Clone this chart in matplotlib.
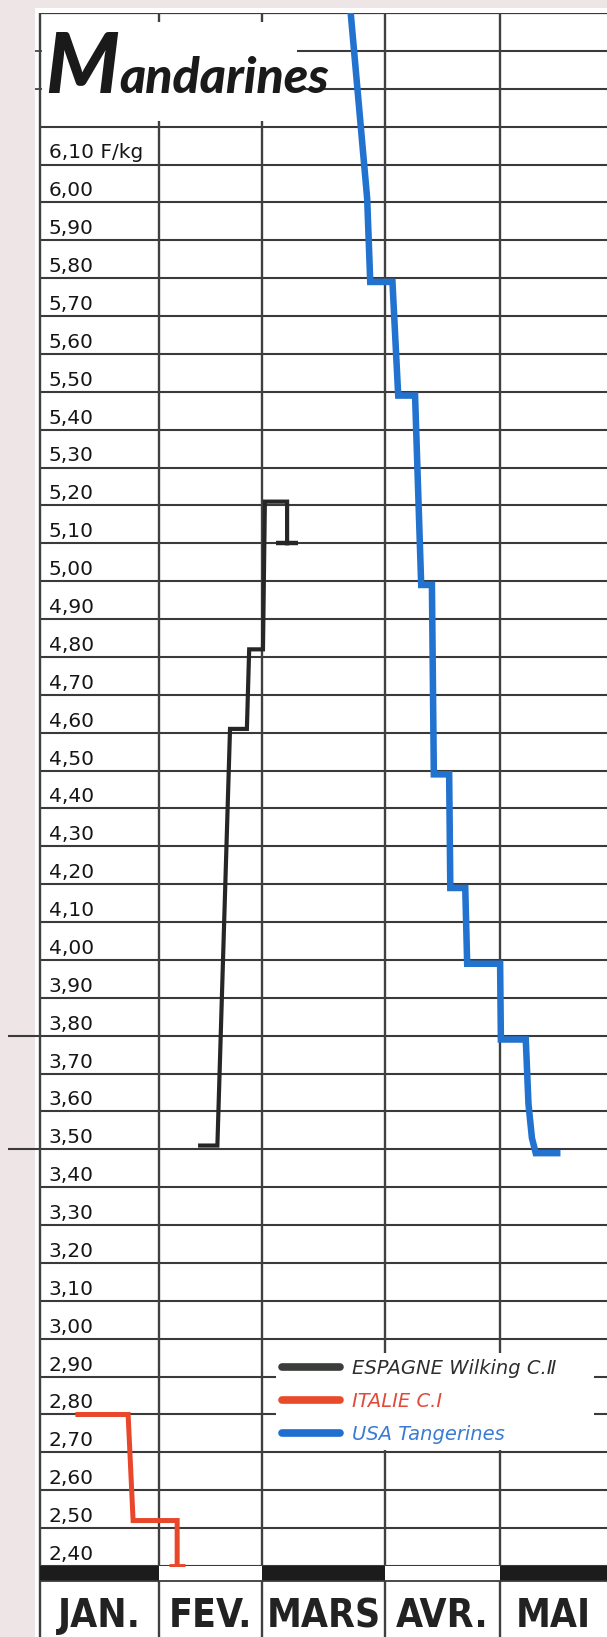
import matplotlib
matplotlib.use("Agg")
import matplotlib.pyplot as plt
from matplotlib.lines import Line2D
from matplotlib.patches import Rectangle
from matplotlib.font_manager import FontProperties, fontManager
import numpy as np

# ---------------- data ----------------
month_names = ["JAN.", "FEV.", "MARS", "AVR.", "MAI"]
month_starts = [0, 31, 58, 90, 120]      # day index where each month column begins
x_last = 148                              # visible part of May

price_levels = [2.40, 2.50, 2.60, 2.70, 2.80, 2.90, 3.00, 3.10, 3.20, 3.30,
                3.40, 3.50, 3.60, 3.70, 3.80, 3.90, 4.00, 4.10, 4.20, 4.30,
                4.40, 4.50, 4.60, 4.70, 4.80, 4.90, 5.00, 5.10, 5.20, 5.30,
                5.40, 5.50, 5.60, 5.70, 5.80, 5.90, 6.00, 6.10, 6.20]
price_labels = ["2,40", "2,50", "2,60", "2,70", "2,80", "2,90", "3,00", "3,10",
                "3,20", "3,30", "3,40", "3,50", "3,60", "3,70", "3,80", "3,90",
                "4,00", "4,10", "4,20", "4,30", "4,40", "4,50", "4,60", "4,70",
                "4,80", "4,90", "5,00", "5,10", "5,20", "5,30", "5,40", "5,50",
                "5,60", "5,70", "5,80", "5,90", "6,00", "6,10 F/kg"]

espagne_x = [41.8, 46.3, 49.6, 54.0, 54.6, 58.2, 58.7, 64.5, 64.5]
espagne_y = [3.51, 3.51, 4.61, 4.61, 4.82, 4.82, 5.21, 5.21, 5.10]

italie_x = [9.9, 23.0, 24.3, 35.8, 35.8]
italie_y = [2.80, 2.80, 2.52, 2.52, 2.40]

usa_x = [81.1, 85.4, 86.2, 92.0, 93.5, 97.9, 99.5, 102.3, 102.8, 106.8,
         107.1, 111.0, 111.5, 120.1, 120.3, 126.8, 127.5, 128.4, 129.4, 135.0]
usa_y = [6.50, 6.01, 5.79, 5.79, 5.49, 5.49, 4.99, 4.99, 4.49, 4.49,
         4.19, 4.19, 3.99, 3.99, 3.79, 3.79, 3.62, 3.53, 3.49, 3.49]

series_labels = ["ESPAGNE Wilking C.\u2161", "ITALIE C.\u2160", "USA Tangerines"]

# ---------------- layout (pixels) ----------------
W, H = 607, 1637
AX_L, AX_R, AX_T, AX_B = 40, 607, 13, 1566
Y0, Y1 = 2.40, 6.50
px_per_unit = (AX_B - AX_T) / (Y1 - Y0)
y_fig_bottom = Y0 - (H - AX_B) / px_per_unit
x_per_px = x_last / (AX_R - AX_L)

C_BLACK = "#262626"
C_RED = "#E8472B"
C_BLUE = "#2272CF"
GRID = "#3a3a3a"

# fonts
cond = None
for f in fontManager.ttflist:
    if ("Narrow" in f.name or "Condensed" in f.name or f.stretch in ("condensed", "semi-condensed")) \
            and (f.weight in ("bold", 700, "heavy") or (isinstance(f.weight, int) and f.weight >= 700)) \
            and f.style == "normal" and "Mono" not in f.name and "Serif" not in f.name:
        cond = f.fname
        break
if cond:
    month_fp = FontProperties(fname=cond, size=28)
else:
    month_fp = FontProperties(family=["Liberation Sans", "DejaVu Sans"], weight="bold", size=25.5)

fig = plt.figure(figsize=(W / 100, H / 100), dpi=100, facecolor="#EEE6E6")
fig.add_artist(Rectangle((35 / W, 0), 1 - 35 / W, 1 - 8 / H, transform=fig.transFigure,
                         facecolor="white", edgecolor="none", zorder=0))

ax = fig.add_axes([AX_L / W, 1 - AX_B / H, (AX_R - AX_L) / W, (AX_B - AX_T) / H])
ax.set_xlim(0, x_last)
ax.set_ylim(Y0, Y1)
ax.set_axis_off()

# grid
ax.hlines(price_levels, 0, x_last, colors=GRID, lw=1.5, zorder=1)
ax.hlines([6.30, 6.40], 67, x_last, colors=GRID, lw=1.5, zorder=1)
ax.hlines([Y1], 0, x_last, colors=GRID, lw=1.6, zorder=1)
ax.hlines([3.80, 3.50], -32 * x_per_px, 0, colors=GRID, lw=1.5, zorder=1, clip_on=False)
ax.hlines([6.30, 6.40], -5 * x_per_px, 5 * x_per_px, colors=GRID, lw=1.2, zorder=1, clip_on=False)
ax.vlines([0] + month_starts[1:], y_fig_bottom, Y1, colors="#404040", lw=1.7, zorder=1, clip_on=False)

# bottom band
widths = np.diff(month_starts + [x_last])
band_colors = ["#1c1c1c" if i % 2 == 0 else "white" for i in range(len(month_starts))]
ax.bar(month_starts, 15 / px_per_unit, width=widths, bottom=Y0 - 15 / px_per_unit, align="edge",
       color=band_colors, edgecolor="none", clip_on=False, zorder=2)
ax.hlines([Y0 - 15 / px_per_unit], 0, x_last, colors=GRID, lw=1.3, zorder=2, clip_on=False)
for s, w, name in zip(month_starts, widths, month_names):
    ax.text(s + w / 2, Y0 - 61 / px_per_unit, name, ha="center", va="baseline",
            fontproperties=month_fp, color="#222222", clip_on=False)

# title area
ax.add_patch(Rectangle((0.5, 6.215), 66.3, 0.26, facecolor="white", edgecolor="none", zorder=3))
tM = ax.text(1.3, 6.29, "M", fontsize=60, family=["Lato", "DejaVu Sans"], style="italic",
             weight="black", va="baseline", ha="left", color="#1a1a1a", zorder=5)
ax.annotate("andarines", xy=(1.0, 6.29), xycoords=(tM, "data"), va="baseline", ha="left",
            fontsize=36, family=["Lato", "DejaVu Sans"], style="italic", weight="black",
            color="#1a1a1a", zorder=5)

# price labels
for v, lab in zip(price_levels[:-1], price_labels):
    ax.text(2.3, v + 0.016, lab, fontsize=14.5, va="baseline", ha="left",
            color="#151515", zorder=5)

# series
ax.plot(espagne_x, espagne_y, color=C_BLACK, lw=3.0, solid_joinstyle="miter", zorder=4)
ax.plot(espagne_x[-1:], espagne_y[-1:], marker="_", ms=16, mew=3.2, color=C_BLACK, zorder=4)
ax.plot(italie_x, italie_y, color=C_RED, lw=3.6, solid_joinstyle="miter", zorder=4)
ax.plot(italie_x[-1:], italie_y[-1:], marker="_", ms=12, mew=3.5, color=C_RED, zorder=4)
ax.plot(usa_x, usa_y, color=C_BLUE, lw=4.7, solid_joinstyle="miter", zorder=4)

# legend
handles = [Line2D([], [], color="#3A3D3A", lw=5.5, solid_capstyle="round"),
           Line2D([], [], color="#E84A2A", lw=5.5, solid_capstyle="round"),
           Line2D([], [], color="#1E6FD0", lw=5.5, solid_capstyle="round")]
lx0 = (276 - AX_L) / (AX_R - AX_L)
lw_ = (594 - 276) / (AX_R - AX_L)
ly_top = (AX_B - 1353) / (AX_B - AX_T)
leg = ax.legend(handles, series_labels, loc="upper left", mode="expand",
                bbox_to_anchor=(lx0, ly_top, lw_, 0.0),
                frameon=True, facecolor="white", edgecolor="none", framealpha=1, fancybox=False,
                borderpad=0.3, borderaxespad=0, handlelength=3.0, handletextpad=0.6,
                labelspacing=0.72,
                prop=FontProperties(family=["DejaVu Sans", "Noto Sans CJK SC"], style="oblique", size=14))
for t, c in zip(leg.get_texts(), ["#2e2e2e", "#E04A3A", "#3B7BD3"]):
    t.set_color(c)
leg.set_zorder(6)

fig.savefig("out.png", dpi=100, facecolor=fig.get_facecolor())
